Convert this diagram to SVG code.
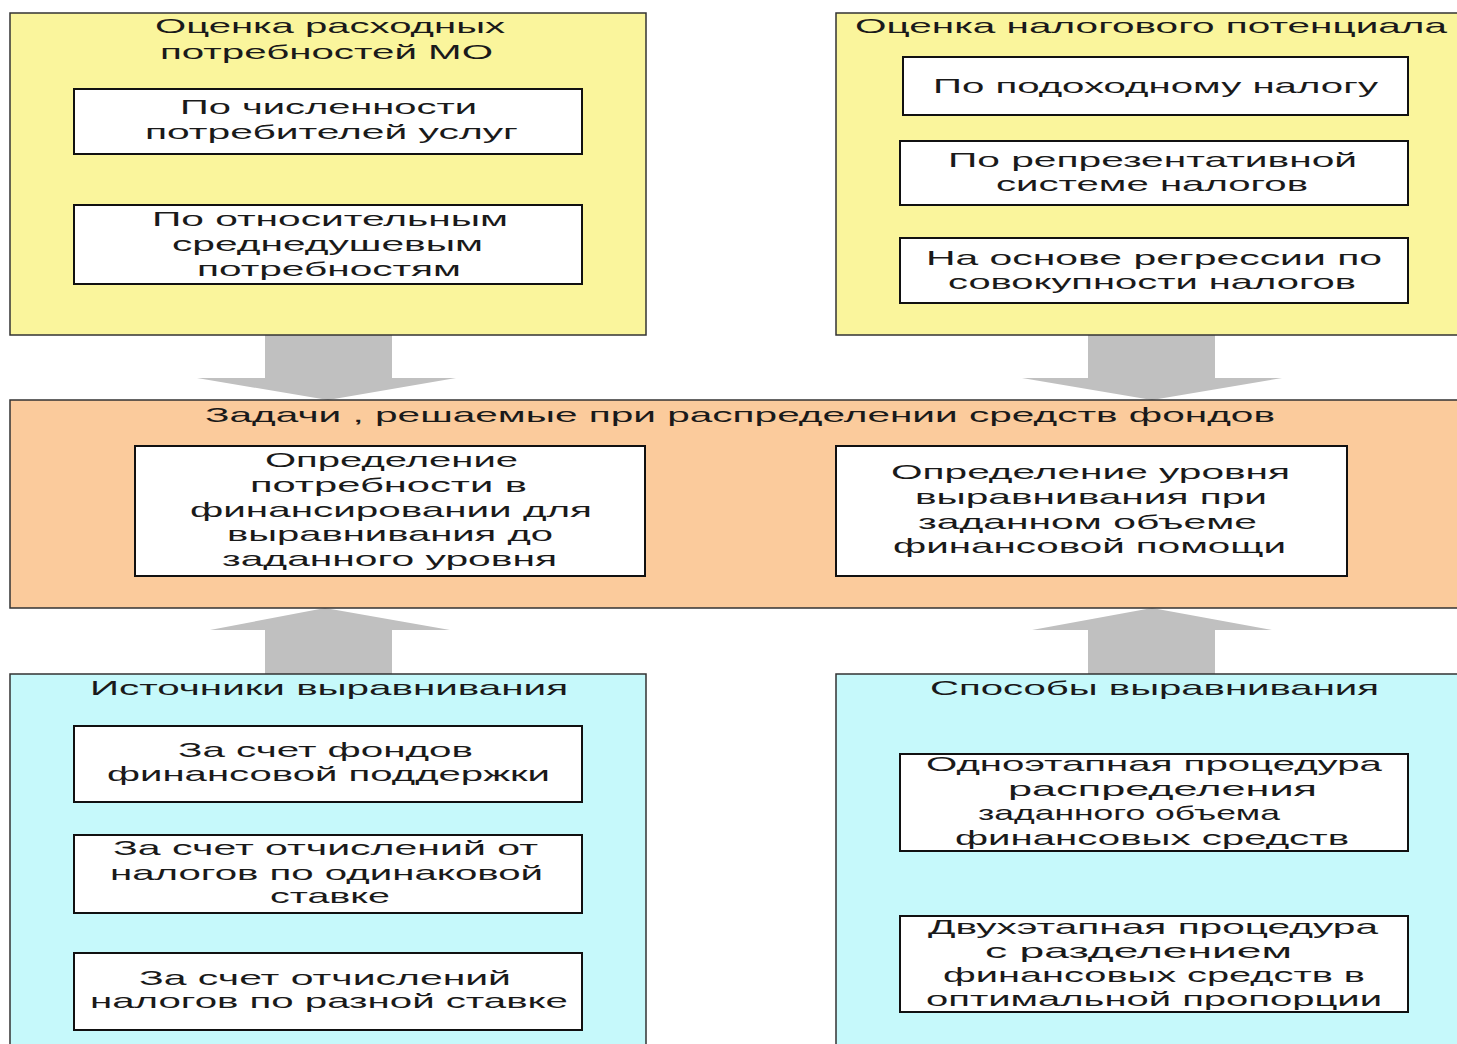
<svg xmlns="http://www.w3.org/2000/svg" width="1457" height="1044" viewBox="0 0 1457 1044">
<style>
text{font-family:"Liberation Sans",Arial,sans-serif;font-size:21px;fill:#1a1a1a}
.y{fill:#FAF59C;stroke:#333;stroke-width:1.5}
.o{fill:#FBCB9C;stroke:#333;stroke-width:1.5}
.c{fill:#C6F9FB;stroke:#333;stroke-width:1.5}
.w{fill:#fff;stroke:#111;stroke-width:2}
.ar{fill:#C0C0C0}
</style>
<rect width="1457" height="1044" fill="#fff"/>
<g id="connectors">
<polygon class="ar" points="265,335 392,335 392,378 456,378 328,400 197,378 265,378"/>
<polygon class="ar" points="1088,335 1215,335 1215,378 1282,378 1152,400 1022,378 1088,378"/>
<polygon class="ar" points="265,674 392,674 392,630 450,630 325,608 210,630 265,630"/>
<polygon class="ar" points="1088,674 1215,674 1215,630 1272,630 1152,608 1032,630 1088,630"/>
</g>
<g id="expense">
<rect class="y" x="10" y="13" width="636" height="322"/>
<text x="155" y="33" textLength="350" lengthAdjust="spacingAndGlyphs">Оценка расходных</text>
<text x="160" y="59" textLength="333" lengthAdjust="spacingAndGlyphs">потребностей МО</text>
</g>
<g id="exp1">
<rect class="w" x="74" y="89" width="508" height="65"/>
<text x="180" y="114" textLength="297" lengthAdjust="spacingAndGlyphs">По численности</text>
<text x="145" y="139" textLength="373" lengthAdjust="spacingAndGlyphs">потребителей услуг</text>
</g>
<g id="exp2">
<rect class="w" x="74" y="205" width="508" height="79"/>
<text x="152" y="226" textLength="356" lengthAdjust="spacingAndGlyphs">По относительным</text>
<text x="172" y="251" textLength="311" lengthAdjust="spacingAndGlyphs">среднедушевым</text>
<text x="197" y="276" textLength="264" lengthAdjust="spacingAndGlyphs">потребностям</text>
</g>
<g id="tax">
<path class="y" d="M1460,13 H836 V335 H1460"/>
<text x="855" y="33" textLength="592" lengthAdjust="spacingAndGlyphs">Оценка налогового потенциала</text>
</g>
<g id="tax1">
<rect class="w" x="903" y="57" width="505" height="58"/>
<text x="933" y="93" textLength="445" lengthAdjust="spacingAndGlyphs">По подоходному налогу</text>
</g>
<g id="tax2">
<rect class="w" x="900" y="141" width="508" height="64"/>
<text x="948" y="167" textLength="409" lengthAdjust="spacingAndGlyphs">По репрезентативной</text>
<text x="996" y="191" textLength="312" lengthAdjust="spacingAndGlyphs">системе налогов</text>
</g>
<g id="tax3">
<rect class="w" x="900" y="238" width="508" height="65"/>
<text x="926" y="265" textLength="456" lengthAdjust="spacingAndGlyphs">На основе  регрессии по</text>
<text x="948" y="289" textLength="408" lengthAdjust="spacingAndGlyphs">совокупности налогов</text>
</g>
<g id="tasks">
<path class="o" d="M1460,400 H10 V608 H1460"/>
<text x="205" y="422" textLength="1070" lengthAdjust="spacingAndGlyphs">Задачи , решаемые при распределении средств фондов</text>
</g>
<g id="task1">
<rect class="w" x="135" y="446" width="510" height="130"/>
<text x="265" y="467" textLength="253" lengthAdjust="spacingAndGlyphs">Определение</text>
<text x="250" y="492" textLength="277" lengthAdjust="spacingAndGlyphs">потребности  в</text>
<text x="190" y="517" textLength="402" lengthAdjust="spacingAndGlyphs">финансировании для</text>
<text x="227" y="541" textLength="326" lengthAdjust="spacingAndGlyphs">выравнивания до</text>
<text x="222" y="566" textLength="335" lengthAdjust="spacingAndGlyphs">заданного уровня</text>
</g>
<g id="task2">
<rect class="w" x="836" y="446" width="511" height="130"/>
<text x="891" y="479" textLength="399" lengthAdjust="spacingAndGlyphs">Определение уровня</text>
<text x="915" y="504" textLength="352" lengthAdjust="spacingAndGlyphs">выравнивания при</text>
<text x="918" y="529" textLength="339" lengthAdjust="spacingAndGlyphs">заданном объеме</text>
<text x="893" y="553" textLength="393" lengthAdjust="spacingAndGlyphs">финансовой помощи</text>
</g>
<g id="sources">
<path class="c" d="M10,1050 V674 H646 V1050"/>
<text x="90" y="695" textLength="478" lengthAdjust="spacingAndGlyphs">Источники выравнивания</text>
</g>
<g id="src1">
<rect class="w" x="74" y="726" width="508" height="76"/>
<text x="178" y="757" textLength="295" lengthAdjust="spacingAndGlyphs">За счет  фондов</text>
<text x="107" y="781" textLength="443" lengthAdjust="spacingAndGlyphs">финансовой поддержки</text>
</g>
<g id="src2">
<rect class="w" x="74" y="835" width="508" height="78"/>
<text x="113" y="855" textLength="425" lengthAdjust="spacingAndGlyphs">За счет отчислений  от</text>
<text x="110" y="880" textLength="433" lengthAdjust="spacingAndGlyphs">налогов  по одинаковой</text>
<text x="270" y="903" textLength="120" lengthAdjust="spacingAndGlyphs">ставке</text>
</g>
<g id="src3">
<rect class="w" x="74" y="953" width="508" height="77"/>
<text x="139" y="985" textLength="372" lengthAdjust="spacingAndGlyphs">За счет отчислений</text>
<text x="90" y="1008" textLength="478" lengthAdjust="spacingAndGlyphs">налогов по разной ставке</text>
</g>
<g id="methods">
<path class="c" d="M1460,1050 H836 V674 H1460"/>
<text x="930" y="695" textLength="449" lengthAdjust="spacingAndGlyphs">Способы выравнивания</text>
</g>
<g id="meth1">
<rect class="w" x="900" y="754" width="508" height="97"/>
<text x="926" y="771" textLength="456" lengthAdjust="spacingAndGlyphs">Одноэтапная процедура</text>
<text x="1008" y="796" textLength="309" lengthAdjust="spacingAndGlyphs">распределения</text>
<text x="978" y="820" textLength="302" lengthAdjust="spacingAndGlyphs">заданного объема</text>
<text x="955" y="845" textLength="394" lengthAdjust="spacingAndGlyphs">финансовых средств</text>
</g>
<g id="meth2">
<rect class="w" x="900" y="916" width="508" height="96"/>
<text x="928" y="934" textLength="450" lengthAdjust="spacingAndGlyphs">Двухэтапная процедура</text>
<text x="985" y="958" textLength="307" lengthAdjust="spacingAndGlyphs">с разделением</text>
<text x="943" y="982" textLength="422" lengthAdjust="spacingAndGlyphs">финансовых средств в</text>
<text x="926" y="1006" textLength="456" lengthAdjust="spacingAndGlyphs">оптимальной пропорции</text>
</g>
</svg>
